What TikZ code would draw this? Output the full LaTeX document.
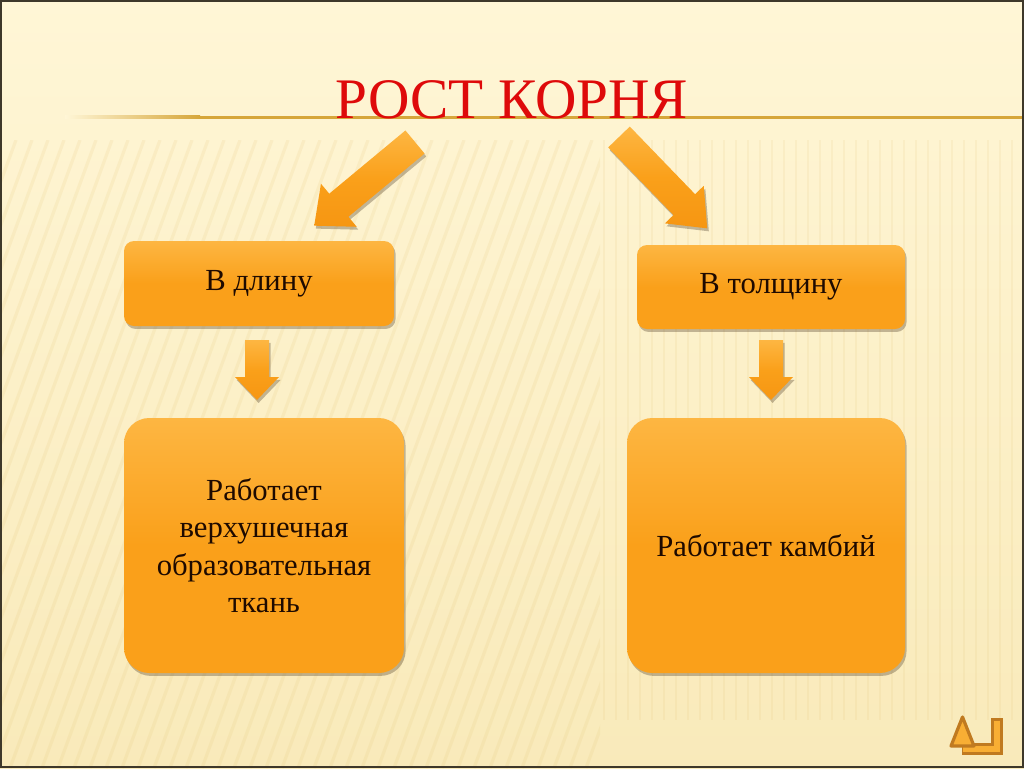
\documentclass[tikz,border=0pt]{standalone}
\usepackage{fontspec}
\setmainfont{Liberation Serif}
\usetikzlibrary{shadows}
\definecolor{bgtop}{RGB}{255,246,214}
\definecolor{bgbot}{RGB}{249,234,186}
\definecolor{stripe}{RGB}{222,186,100}
\definecolor{titlered}{RGB}{222,10,10}
\definecolor{orlight}{RGB}{253,182,66}
\definecolor{ormid}{RGB}{250,160,26}
\definecolor{ordark}{RGB}{246,150,18}
\definecolor{txt}{RGB}{30,10,0}
\definecolor{gold}{RGB}{214,166,58}
\definecolor{icondark}{RGB}{192,122,32}
\definecolor{iconfill}{RGB}{248,174,52}
\definecolor{frame}{RGB}{62,56,42}
\tikzset{
  shadowed/.style={drop shadow={opacity=0.3, shadow xshift=1.2pt, shadow yshift=-2.2pt, fill=black!70!brown}},
  orbox/.style={shadowed, top color=orlight, bottom color=ormid, middle color=ormid,
    text=txt, align=center, inner sep=0pt, font=\fontsize{23}{28}\selectfont},
  smallbox/.style={orbox, rounded corners=7.5pt},
  bigbox/.style={orbox, rounded corners=19pt},
  fatarrowstyle/.style={shadowed, top color=orlight, bottom color=ordark, middle color=ormid},
  titlestyle/.style={text=titlered, font=\fontsize{43}{50}\selectfont, inner sep=0pt}
}
% #1 name, #2 x, #3 y (tail centre), #4 angle, #5 length, #6 shaft half width, #7 head half width, #8 head length
\newcommand\fatarrow[8]{%
  \begin{scope}[shift={(#2,#3)}, rotate=#4]
    \coordinate (#1-tail) at (0,0);
    \coordinate (#1-tip) at (#5,0);
    \path[fatarrowstyle] (0,-#6) -- ({#5-#8},-#6) -- ({#5-#8},-#7) -- (#5,0)
      -- ({#5-#8},#7) -- ({#5-#8},#6) -- (0,#6) -- cycle;
  \end{scope}}
\begin{document}
\begin{tikzpicture}[x=0.75pt, y=-0.75pt]
  % background
  \shade[top color=bgtop, bottom color=bgbot] (0,0) rectangle (1024,768);
  \useasboundingbox (0,0) rectangle (1024,768);
  \begin{scope}
    \clip (0,140) rectangle (600,768);
    \foreach \s in {0,16,...,840} {
      \draw[stripe, opacity=0.12, line width=2.4pt] (\s,140) -- (\s-230,768);
    }
  \end{scope}
  \begin{scope}
    \clip (600,140) rectangle (1020,720);
    \foreach \s in {604,616,...,1016} {
      \draw[stripe, opacity=0.11, line width=2.2pt] (\s,140) -- (\s,720);
    }
  \end{scope}
  % rule under title
  \shade[left color=bgtop, right color=gold] (65,115.8) rectangle (200,118.6);
  \fill[gold] (199.5,115.8) rectangle (1024,118.6);
  % title
  \node[titlestyle, anchor=base] (title) at (512,118) {РОСТ КОРНЯ};
  % boxes
  \node[smallbox, minimum width=202.5pt, minimum height=63.75pt] (len) at (259,283.5) {В длину};
  \node[smallbox, minimum width=201pt, minimum height=63pt] (thick) at (771,287) {В толщину};
  \node[bigbox, minimum width=210pt, minimum height=191.25pt] (apex) at (264,545.5)
    {Работает\\верхушечная\\образовательная\\ткань};
  \node[bigbox, minimum width=208.5pt, minimum height=191.25pt] (camb) at (766,545.5)
    {Работает камбий};
  % arrows
  \fatarrow{la}{415}{142}{219.7}{131}{15}{28}{32}
  \fatarrow{ra}{619}{137}{-46}{127}{15}{27}{33}
  \fatarrow{ld}{257}{340}{-90}{60}{12}{22}{23}
  \fatarrow{rd}{771}{340}{-90}{60}{12}{22}{23}
  % return icon
  \draw[icondark, line width=9pt, line join=miter] (996.5,718) -- (996.5,749) -- (962,749);
  \draw[iconfill, line width=4.5pt, line join=miter] (996.5,720.5) -- (996.5,749) -- (963,749);
  \filldraw[fill=iconfill, draw=icondark, line width=2.4pt, line join=round]
    (951,746) -- (962.5,717) -- (974,746) -- cycle;
  % frame
  \draw[frame, line width=1.8pt] (0.8,0.8) rectangle (1023.2,767.2);
\end{tikzpicture}
\end{document}
